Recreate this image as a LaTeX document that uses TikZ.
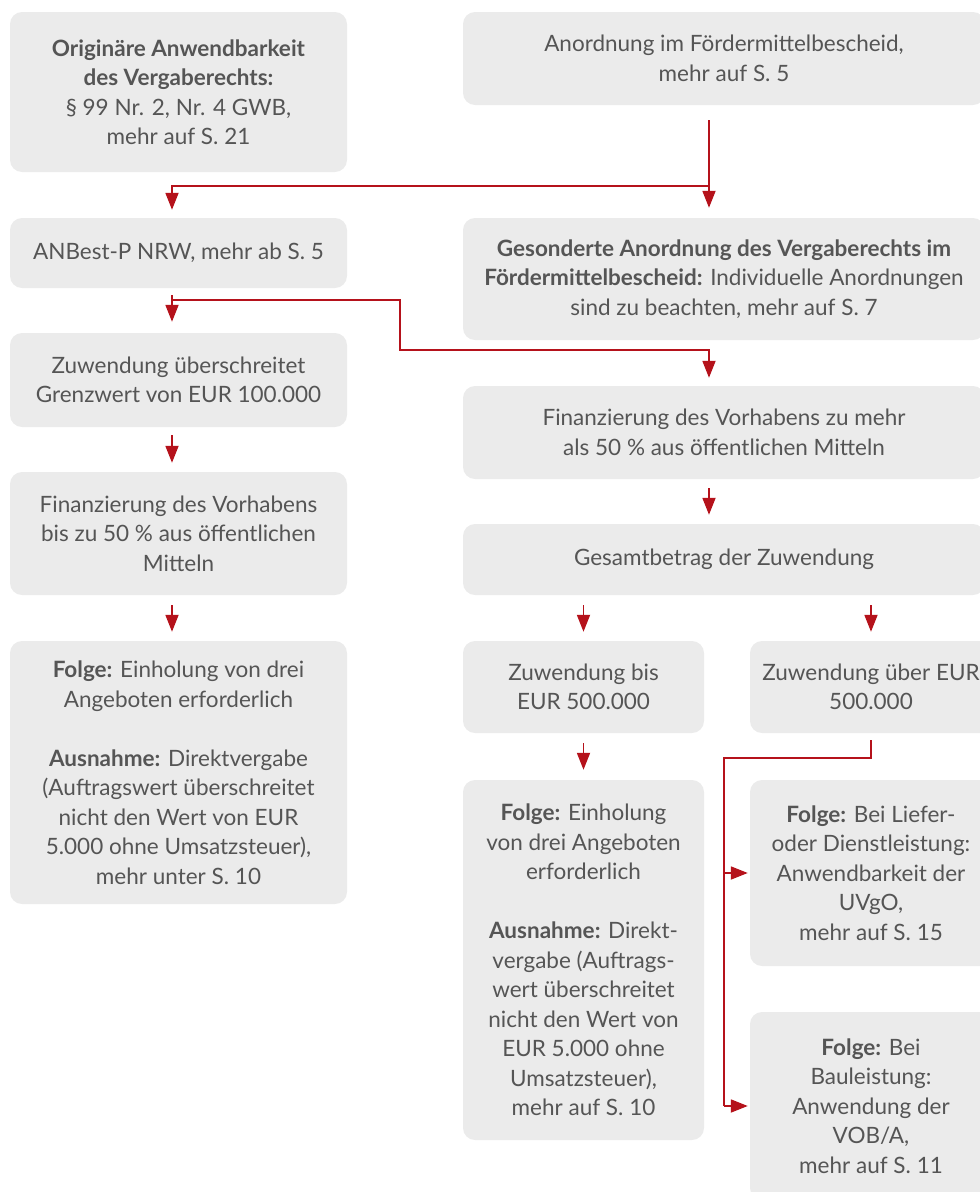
\documentclass[tikz,border=0pt]{standalone}
\usepackage{fontspec}
\setmainfont{Lato}
\usetikzlibrary{arrows.meta}
\definecolor{boxgray}{HTML}{EBEBEB}
\definecolor{txtgray}{HTML}{555555}
\definecolor{arrred}{HTML}{B5121B}
\tikzset{
  box/.style={rectangle, rounded corners=12pt, fill=boxgray, text=txtgray, align=center, inner sep=0pt,
    font=\fontsize{22.5pt}{29.5pt}\selectfont},
  redline/.style={draw=arrred, line width=1.8pt},
  arr/.style={redline, -{Triangle[length=17pt,width=13pt]}},
}
\begin{document}
\begin{tikzpicture}[x=1pt,y=-1pt]
\useasboundingbox (0,0) rectangle (980,1192);
\clip (0,0) rectangle (980,1192);
% left column
\node[box, minimum width=337pt, minimum height=160pt] (A) at (178.5,92)
  {\textbf{Originäre Anwendbarkeit}\\\textbf{des Vergaberechts:}\\§ 99 Nr. 2, Nr. 4 GWB,\\mehr auf S. 21};
\node[box, minimum width=337pt, minimum height=70pt] (B) at (178.5,253)
  {ANBest-P NRW, mehr ab S. 5};
\node[box, minimum width=337pt, minimum height=94pt] (C) at (178.5,380)
  {Zuwendung überschreitet\\Grenzwert von EUR 100.000};
\node[box, minimum width=337pt, minimum height=123pt] (D) at (178.5,533.5)
  {Finanzierung des Vorhabens\\bis zu 50 \% aus öffentlichen\\Mitteln};
\node[box, minimum width=337pt, minimum height=263pt] (E) at (178.5,772.5)
  {\textbf{Folge:} Einholung von drei\\Angeboten erforderlich\\[29.5pt]\textbf{Ausnahme:} Direktvergabe\\(Auftragswert überschreitet\\nicht den Wert von EUR\\5.000 ohne Umsatzsteuer),\\mehr unter S. 10};
% right column
\node[box, minimum width=522pt, minimum height=93pt] (R1) at (724,58.5)
  {Anordnung im Fördermittelbescheid,\\mehr auf S. 5};
\node[box, minimum width=522pt, minimum height=122pt] (R2) at (724,279)
  {\textbf{Gesonderte Anordnung des Vergaberechts im}\\\textbf{Fördermittelbescheid:} Individuelle Anordnungen\\sind zu beachten, mehr auf S. 7};
\node[box, minimum width=522pt, minimum height=93pt] (R3) at (724,432.5)
  {Finanzierung des Vorhabens zu mehr\\als 50 \% aus öffentlichen Mitteln};
\node[box, minimum width=522pt, minimum height=71pt] (R4) at (724,559.5)
  {Gesamtbetrag der Zuwendung};
\node[box, minimum width=241pt, minimum height=92pt] (S1) at (583.5,687)
  {Zuwendung bis\\EUR 500.000};
\node[box, minimum width=242pt, minimum height=92pt] (S3) at (871,687)
  {Zuwendung über EUR\\500.000};
\node[box, minimum width=241pt, minimum height=360pt] (S2) at (583.5,960)
  {\textbf{Folge:} Einholung\\von drei Angeboten\\erforderlich\\[29.5pt]\textbf{Ausnahme:} Direkt-\\vergabe (Auftrags-\\wert überschreitet\\nicht den Wert von\\EUR 5.000 ohne\\Umsatzsteuer),\\mehr auf S. 10};
\node[box, minimum width=242pt, minimum height=186pt] (S4) at (871,873)
  {\textbf{Folge:} Bei Liefer-\\oder Dienstleistung:\\Anwendbarkeit der\\UVgO,\\mehr auf S. 15};
\node[box, minimum width=242pt, minimum height=188pt] (S5) at (871,1106)
  {\textbf{Folge:} Bei\\Bauleistung:\\Anwendung der\\VOB/A,\\mehr auf S. 11};
% connectors
\coordinate (j1) at ([xshift=-15pt,yshift=-81pt]R1.south);
\draw[arr] ([xshift=-15pt,yshift=-15pt]R1.south) -- ([xshift=-15pt,yshift=10pt]R2.north);
\draw[arr] (j1) -| ([xshift=-6.5pt,yshift=8pt]B.north);
\draw[arr] ([xshift=-6.5pt,yshift=-7pt]B.south) -- ([xshift=-6.5pt,yshift=11pt]C.north);
\coordinate (j2) at ([xshift=-6.5pt,yshift=-12pt]B.south);
\draw[arr] (j2) -- ++(228,0) -- ++(0,50) -| ([xshift=-15pt,yshift=8pt]R3.north);
\draw[arr] ([xshift=-6.5pt,yshift=-8pt]C.south) -- ([xshift=-6.5pt,yshift=9pt]D.north);
\draw[arr] ([xshift=-6.5pt,yshift=-10pt]D.south) -- ([xshift=-6.5pt,yshift=9pt]E.north);
\draw[arr] ([xshift=-15pt,yshift=-9pt]R3.south) -- ([xshift=-15pt,yshift=9pt]R4.north);
\draw[arr] ([yshift=-10pt]R4.south -| S1.north) -- ([yshift=9pt]S1.north);
\draw[arr] ([yshift=-10pt]R4.south -| S3.north) -- ([yshift=9pt]S3.north);
\draw[arr] ([yshift=-10pt]S1.south) -- ([yshift=10pt]S2.north);
\draw[redline] ([yshift=-7pt]S3.south) -- ([yshift=-25pt]S3.south) -| ([xshift=-26pt]S5.west);
\draw[arr] ([xshift=-26pt]S4.west) -- ([xshift=-2pt]S4.west);
\draw[arr] ([xshift=-26pt]S5.west) -- ([xshift=-2pt]S5.west);
\end{tikzpicture}
\end{document}
